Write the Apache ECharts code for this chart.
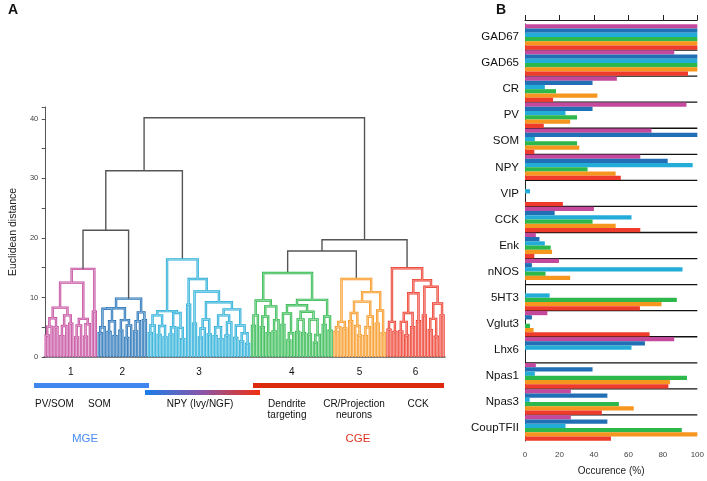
<!DOCTYPE html>
<html>
<head>
<meta charset="utf-8">
<script src="https://cdn.jsdelivr.net/npm/echarts@6/dist/echarts.min.js"></script>
<style>
  html, body { margin: 0; padding: 0; background: #fff; }
  #main { width: 707px; height: 481px; }
</style>
</head>
<body>
<div id="main"></div>
<script>
// Panel A: dendrogram. A node is [height, left, right], a leaf is 0.
const cluster1 = [14.8,
  [12.5,
    [8.3, [6.5, [5.1, [3.6, 0, 0], 0], [5.0, 0, 0]], [7.0, [5.2, [3.5, 0, 0], 0], [5.6, 0, 0]]],
    [6.4, [5.3, [3.3, 0, 0], 0], [5.5, [3.4, 0, 0], 0]]],
  [7.6, 0, 0]];
const cluster2 = [9.8,
  [8.2,
    [8.1, [5.0, [4.0, 0, 0], 0], [6.0, [4.2, 0, 0], [3.5, 0, 0]]],
    [6.2, [4.4, 0, 0], [5.3, [3.2, 0, 0], 0]]],
  [7.5, [6.0, [4.3, 0, 0], 0], [6.2, 0, 0]]];
const cluster3 = [16.4,
  [7.7,
    [7.0, [5.3, [4.0, 0, 0], 0], [5.2, [3.7, 0, 0], [3.3, 0, 0]]],
    [7.4, [5.0, [3.8, 0, 0], 0], [4.9, 0, [3.0, 0, 0]]]],
  [13.1,
    [8.8, 0, 0],
    [11.0,
      [5.6, 0, 0],
      [9.2,
        [6.3, [4.8, [3.3, 0, 0], 0], [3.8, 0, 0]],
        [8.0,
          [7.0, [5.0, [3.5, 0, 0], [3.0, 0, 0]], [5.8, [3.6, 0, 0], 0]],
          [5.3, [3.2, 0, 0], [4.0, [2.6, 0, 0], [2.2, 0, 0]]]]]]]];
const cluster4 = [14.1,
  [9.5,
    [7.0, [5.2, 0, 0], 0],
    [8.5, [6.8, [5.0, 0, 0], [4.0, 0, 0]], [6.2, [4.3, 0, 0], 0]]],
  [9.6,
    [8.7,
      [7.3, [5.4, 0, 0], [4.0, [2.8, 0, 0], 0]],
      [7.6, [6.3, [4.2, 0, 0], [4.0, 0, 0]], [6.3, [3.8, 0, 0], [3.7, [2.4, 0, 0], 0]]]],
    [6.8, [5.4, 0, 0], [4.4, 0, 0]]]];
const cluster5 = [13.1,
  [5.9, [5.0, [4.2, 0, 0], 0], [4.8, 0, 0]],
  [10.9,
    [9.3,
      [7.4, [6.0, 0, 0], [5.2, 0, [3.6, 0, 0]]],
      [6.8, [5.0, [3.5, 0, 0], 0], 0]],
    [7.8, [5.6, 0, 0], [4.0, 0, 0]]]];
const cluster6 = [14.9,
  [5.9, [4.6, 0, 0], [4.2, 0, 0]],
  [12.9,
    [10.7,
      [7.4, [5.9, [4.3, 0, 0], [3.6, 0, 0]], [5.0, 0, 0]],
      [6.0, 0, 0]],
    [11.8,
      [7.0, 0, 0],
      [9.0, [6.4, [4.5, 0, 0], [3.4, 0, 0]], [7.0, 0, 0]]]]];
const clusters = [cluster1, cluster2, cluster3, cluster4, cluster5, cluster6];
const topTree = [40.2, [31.3, [21.3, cluster1, cluster2], cluster3], [19.7, [17.8, cluster4, cluster5], cluster6]];
const clusterLabels = ['1', '2', '3', '4', '5', '6'];

// Panel B: occurrence (%) per marker, one array per cluster
const markers = ['GAD67', 'GAD65', 'CR', 'PV', 'SOM', 'NPY', 'VIP', 'CCK', 'Enk', 'nNOS',
  '5HT3', 'Vglut3', 'Lhx6', 'Npas1', 'Npas3', 'CoupTFII'];
const occ1 = [100, 86.6, 53.3, 93.7, 73.4, 66.9, 0, 40, 6.3, 19.7, 0, 13, 86.6, 6.3, 26.6, 26.6];
const occ2 = [100, 100, 39.2, 39.2, 100, 82.8, 0, 17.2, 8.4, 4, 0, 4, 69.6, 39.2, 47.8, 47.8];
const occ3 = [100, 100, 11.5, 23.5, 5.7, 97.3, 2.9, 61.8, 11.5, 91.4, 14.3, 0, 61.8, 5.7, 2.7, 23.5];
const occ4 = [100, 100, 18, 30.2, 30.2, 36.3, 0, 39.2, 14.9, 11.9, 88.1, 2.9, 0, 94, 54.5, 91];
const occ5 = [100, 100, 42, 26.2, 31.5, 52.6, 0, 52.6, 15.7, 26.2, 79.2, 5, 0, 84.1, 63.1, 100];
const occ6 = [100, 94.6, 16.3, 10.9, 5.4, 55.6, 22, 66.9, 5.4, 0, 66.7, 72.3, 0, 83.2, 44.6, 49.9];
const occurrence = [occ1, occ2, occ3, occ4, occ5, occ6];

const clusterColors = ['#c4489c', '#2170b6', '#24acd8', '#2db84c', '#f7961f', '#ee3b2c'];
const linkColor = '#555555';

// walk the tree, leaves get x = 0,1,2... ; collect U-shaped links per colour
const segs = {};
const leafRange = [];
let nextLeaf = 0;
function walk(node, color) {
  const ci = clusters.indexOf(node);
  if (ci >= 0) color = clusterColors[ci];
  if (node === 0) return { x: nextLeaf++, h: 0 };
  const start = nextLeaf;
  const kids = node.slice(1).map(k => walk(k, color));
  const h = node[0];
  const a = kids[0], b = kids[kids.length - 1];
  (segs[color] = segs[color] || []).push({ coords: [[a.x, a.h], [a.x, h], [b.x, h], [b.x, b.h]] });
  if (ci >= 0) leafRange[ci] = [start, nextLeaf - 1];
  return { x: (a.x + b.x) / 2, h: h };
}
walk(topTree, linkColor);
const nLeaves = nextLeaf;

function lighten(hex, t) {
  const n = parseInt(hex.slice(1), 16);
  const ch = [n >> 16, (n >> 8) & 255, n & 255].map(v => Math.round(v + (255 - v) * t));
  return 'rgb(' + ch.join(',') + ')';
}

const chart = echarts.init(document.getElementById('main'));
const font = 'Arial, "Liberation Sans", sans-serif';

// cluster links are drawn as an outlined stroke (dark edge, pale core) like the original
const dendroSeries = [];
Object.keys(segs).forEach(c => {
  const base = { type: 'lines', coordinateSystem: 'cartesian2d', xAxisIndex: 0, yAxisIndex: 0,
    polyline: true, silent: true, data: segs[c] };
  if (c === linkColor) {
    dendroSeries.push(Object.assign({}, base, { lineStyle: { color: c, width: 1.4, opacity: 1 } }));
  } else {
    dendroSeries.push(Object.assign({}, base, { lineStyle: { color: c, width: 2.4, opacity: 1 } }));
    dendroSeries.push(Object.assign({}, base, { lineStyle: { color: lighten(c, 0.6), width: 0.8, opacity: 1 } }));
  }
});

// first series (cluster 1) ends up on top of each row
const barSeries = occurrence.map((vals, i) => ({
  type: 'bar',
  xAxisIndex: 1,
  yAxisIndex: 1,
  data: vals,
  barGap: '0%',
  barCategoryGap: '2%',
  itemStyle: { color: clusterColors[i] },
  silent: true
}));

const separators = markers.slice(1).map((m, i) => [0, i + 1]);

chart.setOption({
  animation: false,
  textStyle: { fontFamily: font },
  grid: [
    { left: 37, top: 107, width: 408, height: 250 },
    { left: 525, top: 24, width: 174, height: 422 }
  ],
  xAxis: [
    { gridIndex: 0, type: 'value', min: -0.5, max: nLeaves - 0.5,
      axisLine: { show: true, onZero: false, lineStyle: { color: '#555', width: 1.5 } },
      axisTick: { show: false }, axisLabel: { show: false }, splitLine: { show: false } },
    { gridIndex: 1, type: 'value', min: 0, max: 100, interval: 20, position: 'top', offset: 4,
      axisLine: { show: true, lineStyle: { color: '#222', width: 1 } },
      axisTick: { show: true, length: 5, lineStyle: { color: '#222' } },
      axisLabel: { show: false }, splitLine: { show: false } },
    { gridIndex: 1, type: 'value', min: 0, max: 100, interval: 20, position: 'bottom',
      axisLine: { show: false }, axisTick: { show: false }, splitLine: { show: false },
      axisLabel: { show: true, fontSize: 8, color: '#444', margin: 10 },
      name: 'Occurence (%)', nameLocation: 'middle', nameGap: 25,
      nameTextStyle: { fontSize: 10, color: '#222' } }
  ],
  yAxis: [
    { gridIndex: 0, type: 'value', min: 0, max: 42, interval: 10,
      axisLine: { show: true, lineStyle: { color: '#555', width: 1 } },
      axisTick: { show: true, length: 4, lineStyle: { color: '#555' } },
      minorTick: { show: true, splitNumber: 2, length: 4, lineStyle: { color: '#555' } },
      axisLabel: { fontSize: 7.5, color: '#444', margin: 6, showMaxLabel: false },
      splitLine: { show: false }, minorSplitLine: { show: false },
      name: 'Euclidean distance', nameLocation: 'middle', nameGap: 24,
      nameTextStyle: { fontSize: 10.5, color: '#222' } },
    { gridIndex: 1, type: 'category', data: markers, inverse: true,
      axisLine: { show: true, lineStyle: { color: '#222', width: 1 } },
      axisTick: { show: false },
      axisLabel: { fontSize: 11.5, color: '#111', margin: 6 } }
  ],
  series: dendroSeries.concat(barSeries).concat([{
    type: 'custom',
    xAxisIndex: 1,
    yAxisIndex: 1,
    silent: true,
    data: separators,
    encode: { x: 0, y: 1 },
    renderItem: function (params, api) {
      const p0 = api.coord([0, api.value(1)]);
      const p1 = api.coord([100, api.value(1)]);
      const band = api.size([0, 1])[1];
      const y = p0[1] - band / 2;
      return { type: 'line', shape: { x1: p0[0], y1: y, x2: p1[0], y2: y },
        style: { stroke: '#111', lineWidth: 1.3 } };
    }
  }])
});

// annotations under the dendrogram
const graphics = [
  { type: 'text', left: 8, top: 3, style: { text: 'A', font: 'bold 14px ' + font, fill: '#111' } },
  { type: 'text', left: 496, top: 3, style: { text: 'B', font: 'bold 14px ' + font, fill: '#111' } },
  { type: 'rect', shape: { x: 34, y: 383, width: 115, height: 5 }, style: { fill: '#3f87ee' } },
  { type: 'rect', shape: { x: 145, y: 390, width: 115, height: 5 }, style: {
      fill: new echarts.graphic.LinearGradient(0, 0, 1, 0, [
        { offset: 0, color: '#1a7de9' }, { offset: 0.5, color: '#8a55a8' }, { offset: 1, color: '#f0300f' }]) } },
  { type: 'rect', shape: { x: 253, y: 383, width: 191, height: 5 }, style: { fill: '#dc2a0c' } }
];
const groupTexts = [
  ['PV/SOM', 35, 399, 'left'], ['SOM', 88, 399, 'left'], ['NPY (Ivy/NGF)', 200, 399, 'center'],
  ['Dendrite\ntargeting', 287, 399, 'center'], ['CR/Projection\nneurons', 354, 399, 'center'],
  ['CCK', 418, 399, 'center']
];
groupTexts.forEach(t => graphics.push({ type: 'text', x: t[1], y: t[2],
  style: { text: t[0], font: '10px ' + font, fill: '#111', align: t[3], lineHeight: 11 } }));
graphics.push({ type: 'text', x: 85, y: 433, style: { text: 'MGE', font: '11.5px ' + font, fill: '#4a8cf0', align: 'center' } });
graphics.push({ type: 'text', x: 358, y: 433, style: { text: 'CGE', font: '11.5px ' + font, fill: '#e0321e', align: 'center' } });
leafRange.forEach((r, i) => {
  const p = chart.convertToPixel({ gridIndex: 0 }, [(r[0] + r[1]) / 2, 0]);
  graphics.push({ type: 'text', x: p[0], y: 367, style: { text: clusterLabels[i], font: '10px ' + font, fill: '#111', align: 'center' } });
});
chart.setOption({ graphic: graphics });
</script>
</body>
</html>
